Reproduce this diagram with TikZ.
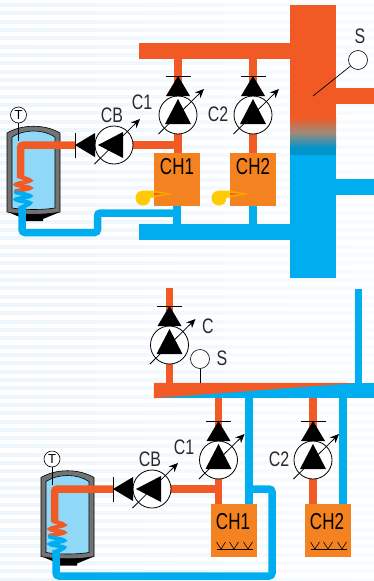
\documentclass[tikz,border=0pt]{standalone}
\usepackage{fontspec}
\setmainfont{Liberation Sans}
\usetikzlibrary{arrows.meta,backgrounds}
\definecolor{hot}{HTML}{F15A24}
\definecolor{cold}{HTML}{00AEEF}
\definecolor{boiler}{HTML}{F58220}
\definecolor{water}{HTML}{8FD8F8}
\definecolor{stripe}{HTML}{EDF6FC}
\definecolor{label}{HTML}{2B2B2B}
\definecolor{flame}{HTML}{FFCB05}
\definecolor{blend}{HTML}{A08A78}
\tikzset{
  hotpipe/.style={draw=hot, line width=7.5pt},
  coldpipe/.style={draw=cold, line width=7.5pt, rounded corners=3pt},
  hotbar/.style={fill=hot, inner sep=0pt, minimum width=#1, minimum height=16pt},
  coldbar/.style={fill=cold, inner sep=0pt, minimum width=#1, minimum height=16pt},
  pumpdisc/.style={circle, draw=black, line width=0.8pt, fill=white, inner sep=0pt, minimum size=38pt},
  sensordisc/.style={circle, draw=black, line width=0.6pt, fill=white, inner sep=0pt, minimum size=#1},
  chbox/.style={fill=boiler, inner sep=0pt, minimum width=46pt, minimum height=53pt},
  chtext/.style={font=\fontsize{23}{23}\selectfont, text=black, xscale=.74, inner sep=0pt},
  tag/.style={font=\fontsize{21}{21}\selectfont, text=label, xscale=.76, inner sep=0pt}
}
% pump with check valve: name, centre, rotation of the triangles
\newcommand{\pumpsym}[3]{
  \node[pumpdisc] (#1) at (#2) {};
  \begin{scope}[shift={(#2)}]
    \fill[rotate=#3] (0,-16) -- (13,9) -- (-13,9) -- cycle;
    \fill[rotate=#3] (0,-39) -- (12,-19) -- (-12,-19) -- cycle;
    \draw[line width=0.8pt, rotate=#3] (-12.5,-39) -- (12.5,-39);
    \draw[line width=0.8pt, -{Stealth[length=9pt,width=8pt]}] (-19.5,19) -- (26,-26);
  \end{scope}
}
% storage tank: shift, then the vessel only
\newcommand{\tanksym}[1]{
  \begin{scope}[shift={(#1)}]
    \fill[black] (8,212) -- (22,218) -- (22,221) -- (43,221) -- (43,219) -- (60,212) -- cycle;
    \draw[fill=black!55, line width=0.6pt] (7,133) .. controls (22,124) and (45,124) .. (60,133)
      -- (60,212) .. controls (45,215) and (22,215) .. (7,212) -- cycle;
    \draw[fill=water, line width=0.6pt] (12,137) .. controls (24,129) and (43,129) .. (55,137)
      -- (55,208) .. controls (43,210) and (24,210) .. (12,208) -- cycle;
  \end{scope}
}
% heat exchanger coil inside the tank
\newcommand{\coilsym}[1]{
  \begin{scope}[shift={(#1)}]
    \draw[hot, line width=4pt, line cap=round] plot[smooth] coordinates
      {(20,177) (30,180.5) (16,184.5) (30,188) (16,191)};
    \draw[cold, line width=4pt, line cap=round] plot[smooth] coordinates
      {(16,192.5) (30,196) (16,199.5) (30,203) (22,207)};
  \end{scope}
}
% burner beside a boiler
\newcommand{\burnersym}[1]{
  \begin{scope}[shift={(#1)}]
    \fill[flame] (143,198) circle (7.5);
    \fill[flame] (143,190.5) -- (154,190.5) -- (154,197.5) -- (147,197.5) -- cycle;
    \fill[orange!70!yellow] (154,190.5) -- (173,194) -- (154,197.5) -- cycle;
    \fill[hot] (154,193) -- (166,194) -- (154,195) -- cycle;
  \end{scope}
}
% floor heating mark in a boiler
\newcommand{\floorsym}[1]{
  \begin{scope}[shift={(#1)}]
    \draw[line width=0.6pt] (-17,27) -- (19,27);
    \foreach \vx in {-13,0,14}
      \draw[line width=0.6pt] (\vx-4.5,20) -- (\vx,27) -- (\vx+4.5,20);
  \end{scope}
}
\begin{document}
\begin{tikzpicture}[x=1pt,y=-1pt]
  \useasboundingbox (0,0) rectangle (374,581);
  % striped paper
  \begin{scope}[on background layer]
    \foreach \sy in {0,...,69}
      \fill[left color=stripe, right color=stripe!35!white] (0,{3.5+8.33*\sy}) rectangle (374,{6.5+8.33*\sy});
  \end{scope}

  % upper scheme: separator
  \node[hotbar=46pt, minimum height=112pt] (sephot) at (313,61) {};
  \shade[top color=hot, bottom color=cold!85!black, middle color=blend] (290,117) rectangle (336,148);
  \node[coldbar=46pt, minimum height=130pt] (sepcold) at (313,213) {};
  \fill[cold!85!black] (290,147) rectangle (336,155);
  \node[hotbar=38pt] (hotout) at (355,96) {};
  \node[coldbar=38pt] (coldout) at (355,187) {};
  \node[hotbar=151pt] (hothead) at (214.5,51) {};
  \node[coldbar=151pt] (coldhead) at (214.5,232) {};

  % upper scheme: boilers and pumps
  \node[chbox] (ch1) at (177,179.5) {};
  \node[chbox] (ch2) at (253,179.5) {};
  \node[chtext] (ch1text) at (177,167) {CH1};
  \node[chtext] (ch2text) at (253,167) {CH2};
  \pumpsym{c1}{178,115}{0}
  \pumpsym{c2}{253,115}{0}
  \pumpsym{cb}{114,145}{90}
  \burnersym{0,0}
  \burnersym{76,0}
  \tanksym{0,0}
  \node[sensordisc=16pt, font=\fontsize{13}{13}\selectfont] (t1) at (18.5,115) {T};
  \coordinate (t1tip) at (18.5,141);
  \draw[line width=0.6pt] (t1) -- (t1tip);
  \coilsym{0,0}
  \node[sensordisc=19pt] (s1) at (358,60) {};
  \coordinate (s1tip) at (313,96);
  \draw[line width=0.7pt] (s1) -- (s1tip);
  \node[tag] (c1text) at (142,102) {C1};
  \node[tag] (c2text) at (218,114) {C2};
  \node[tag] (cbtext) at (112,115) {CB};
  \node[tag] (s1text) at (360,36) {S};

  % upper scheme: pipes
  \coordinate (cbvalve) at (75,145);
  \coordinate (coil1in) at (20.5,178);
  \coordinate (coil1out) at (22,206);
  \begin{scope}[on background layer]
    \draw[hotpipe] (c1) -- (c1 |- hothead);
    \draw[hotpipe] (c2) -- (c2 |- hothead);
    \draw[hotpipe] (c1) -- (ch1.north -| c1);
    \draw[hotpipe] (c2) -- (ch2.north -| c2);
    \draw[hotpipe] (cb) -- (cb -| c1);
    \draw[coldpipe] (ch1) -- (ch1 |- coldhead);
    \draw[coldpipe] (ch2) -- (ch2 |- coldhead);
  \end{scope}
  \draw[hotpipe, rounded corners=3pt] (cbvalve) -- (cbvalve -| coil1in) -- (coil1in);
  \draw[coldpipe] (coil1out) -- (22,232.5) -- (97.5,232.5) -- (97.5,213) -- (177,213);

  % lower scheme: wedge header
  \node[coldbar=220pt, minimum height=15pt] (head) at (264,390.5) {};
  \fill[hot] (head.north west) -- (356,383) -- (head.south west) -- cycle;
  \coordinate (coldup) at (358.5,289);
  \coordinate (hotup) at (169.5,288);

  % lower scheme: boilers and pumps
  \node[chbox] (ch3) at (234,530.5) {};
  \node[chbox] (ch4) at (328,530.5) {};
  \node[chtext] (ch3text) at (233,522) {CH1};
  \node[chtext] (ch4text) at (327,522) {CH2};
  \floorsym{234,522}
  \floorsym{328,522}
  \pumpsym{c}{169.5,345}{0}
  \pumpsym{c3}{218.5,460}{0}
  \pumpsym{c4}{313,460}{0}
  \pumpsym{cb2}{152,489}{90}
  \tanksym{34,344.5}
  \node[sensordisc=16pt, font=\fontsize{13}{13}\selectfont] (t2) at (52,459) {T};
  \coordinate (t2tip) at (52,485);
  \draw[line width=0.6pt] (t2) -- (t2tip);
  \coilsym{34,344.5}
  \node[sensordisc=19pt] (s2) at (200,359) {};
  \coordinate (s2tip) at (200,383);
  \draw[line width=0.7pt] (s2) -- (s2tip);
  \node[tag] (ctext) at (208,326) {C};
  \node[tag] (s2text) at (222,358) {S};
  \node[tag] (c3text) at (184,447) {C1};
  \node[tag] (c4text) at (279,459) {C2};
  \node[tag] (cb2text) at (150,459) {CB};

  % lower scheme: pipes
  \coordinate (cb2valve) at (113,489);
  \coordinate (coil2in) at (54.5,522);
  \coordinate (coil2out) at (56,550);
  \coordinate (retfrom) at (249,489);
  \begin{scope}[on background layer]
    \draw[hotpipe] (hotup) -- (c);
    \draw[hotpipe] (c) -- (c |- head.north);
    \draw[hotpipe] (c3) -- (c3 |- head);
    \draw[hotpipe] (c3) -- (c3 |- ch3.north);
    \draw[hotpipe] (c4) -- (c4 |- head);
    \draw[hotpipe] (c4) -- (c4 |- ch4.north);
    \draw[hotpipe] (cb2) -- (cb2 -| c3);
    \draw[coldpipe] (249,398) -- (249,504);
    \draw[coldpipe] (343,398) -- (343,504);
    \draw[coldpipe] (coldup) -- (coldup |- head.north);
  \end{scope}
  \draw[hotpipe, rounded corners=3pt] (cb2valve) -- (cb2valve -| coil2in) -- (coil2in);
  \draw[coldpipe] (retfrom) -- (272,489) -- (272,576) -- (56,576) -- (coil2out);
\end{tikzpicture}
\end{document}
